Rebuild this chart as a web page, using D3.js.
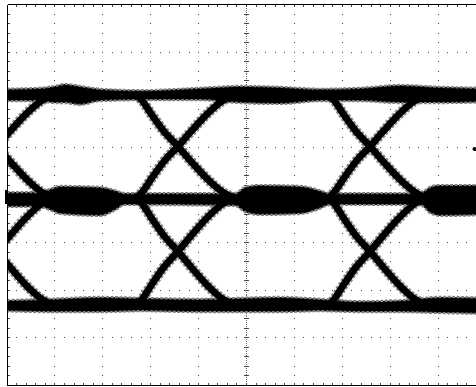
<!DOCTYPE html>
<html><head><meta charset="utf-8">
<script src="https://cdn.jsdelivr.net/npm/d3@7"></script>
<style>html,body{margin:0;padding:0;background:#fff;overflow:hidden}</style>
</head><body>
<svg id="c" width="476" height="387"></svg>
<script>
// ---- data (time and amplitude in screen divisions) ----
const levels = [2.09, -0.07, -2.32];            // top, middle, bottom logic levels
const crossings = [-0.20, 3.58, 7.59];           // eye crossing times
const edgeDt   = [-0.86, -0.74, -0.55, -0.30, 0, 0.30, 0.62, 0.92, 1.16]; // edge profile time offsets
const edgeFrac = [0, 0.06, 0.19, 0.35, 0.50, 0.66, 0.82, 0.94, 1.0];      // fraction of swing
// band envelopes: [time, upper edge, lower edge]
const topBand = [[-0.1,2.22,1.96],[0.70,2.24,1.96],[1.01,2.28,1.92],[1.22,2.32,1.92],[1.53,2.28,1.88],[1.95,2.22,1.96],[2.79,2.19,1.98],[4.04,2.24,1.98],[4.88,2.28,1.92],[5.71,2.26,1.90],[6.54,2.22,1.96],[7.38,2.24,1.96],[8.21,2.30,1.92],[9.05,2.26,1.92],[10.1,2.24,1.94]];
const midBand = [[-0.1,0.05,-0.26],[0.70,0.05,-0.26],[0.91,0.12,-0.33],[1.12,0.18,-0.41],[1.95,0.16,-0.45],[2.27,0.09,-0.33],[2.47,0.03,-0.22],[4.77,0.03,-0.24],[4.98,0.16,-0.37],[5.29,0.20,-0.43],[6.13,0.18,-0.41],[6.54,0.09,-0.30],[6.75,0.03,-0.22],[8.63,0.03,-0.22],[8.84,0.16,-0.39],[9.05,0.20,-0.45],[10.1,0.20,-0.43]];
const botBand = [[-0.1,-2.22,-2.45],[0.91,-2.19,-2.47],[1.95,-2.15,-2.47],[2.79,-2.17,-2.45],[4.04,-2.19,-2.47],[4.88,-2.17,-2.47],[5.71,-2.15,-2.47],[6.54,-2.19,-2.45],[7.38,-2.24,-2.47],[8.21,-2.22,-2.47],[9.05,-2.15,-2.49],[10.1,-2.17,-2.51]];
const xMajor = d3.range(0, 11);
const yMajor = d3.range(-4, 5);
const minorPerDiv = 5;
const markers = [[9.77, 0.955]];

// ---- scales ----
const W = 476, H = 387;
const x = d3.scaleLinear().domain([0, 10]).range([6.5, 485.5]);
const y = d3.scaleLinear().domain([-4, 4]).range([385, 4]);
const svg = d3.select("#c");
const px = v => Math.round(v) + 0.5;

svg.append("defs").append("clipPath").attr("id", "plot").append("rect")
  .attr("x", Math.round(x(0)) + 1).attr("y", Math.round(y(4)) + 1)
  .attr("width", W).attr("height", Math.round(y(-4)) - Math.round(y(4)) - 1);

// ---- graticule ----
const g = svg.append("g").attr("shape-rendering", "crispEdges");
const minorX = d3.range(0, 10 * minorPerDiv + 1).map(i => i / minorPerDiv);
const minorY = d3.range(-4 * minorPerDiv, 4 * minorPerDiv + 1).map(i => i / minorPerDiv);
const dot = (cx, cy, fill) => g.append("rect").attr("x", Math.round(cx)).attr("y", Math.round(cy)).attr("width", 1).attr("height", 1).attr("fill", fill);
xMajor.filter(v => v > 0 && v < 10 && v !== 5).forEach(v => minorY.forEach(w => dot(x(v), y(w), "#444")));
yMajor.filter(v => v > -4 && v < 4 && v !== 0).forEach(w => minorX.forEach(v => dot(x(v), y(w), "#444")));
const fineX = d3.range(0, 10 * 25 + 1).map(i => i / 25);
const fineY = d3.range(-4 * 25, 4 * 25 + 1).map(i => i / 25);
fineY.forEach(w => dot(x(5), y(w), "#666"));
fineX.forEach(v => dot(x(v), y(0), "#666"));
minorY.forEach(w => g.append("line").attr("x1", Math.round(x(5)) - 2).attr("x2", Math.round(x(5)) + 3).attr("y1", px(y(w))).attr("y2", px(y(w))).attr("stroke", "#444"));
minorX.forEach(v => g.append("line").attr("y1", Math.round(y(0)) - 2).attr("y2", Math.round(y(0)) + 3).attr("x1", px(x(v))).attr("x2", px(x(v))).attr("stroke", "#444"));
minorX.forEach(v => {
  g.append("rect").attr("x", Math.round(x(v))).attr("y", Math.round(y(4)) + 1).attr("width", 1).attr("height", 2).attr("fill", "#444");
  g.append("rect").attr("x", Math.round(x(v))).attr("y", Math.round(y(-4)) - 2).attr("width", 1).attr("height", 2).attr("fill", "#444");
});
minorY.forEach(w => g.append("rect").attr("x", Math.round(x(0)) + 1).attr("y", Math.round(y(w))).attr("width", 2).attr("height", 1).attr("fill", "#444"));

// ---- eye traces ----
const tr = svg.append("g").attr("clip-path", "url(#plot)");
const edges = [];
crossings.forEach(c => {
  [[0, 1], [1, 2]].forEach(([a, b]) => {
    const hi = levels[a], lo = levels[b];
    edges.push(edgeDt.map((d, i) => [c + d, hi + (lo - hi) * edgeFrac[i]]));
    edges.push(edgeDt.map((d, i) => [c + d, lo + (hi - lo) * edgeFrac[i]]));
  });
});
const line = d3.line().x(d => x(d[0])).y(d => y(d[1])).curve(d3.curveMonotoneX);
const area = d3.area().x(d => x(d[0])).y0(d => y(d[1])).y1(d => y(d[2])).curve(d3.curveMonotoneX);
tr.selectAll("path.halo").data(edges).join("path").attr("class", "halo")
  .attr("d", line).attr("fill", "none").attr("stroke", "#8c8c8c").attr("stroke-width", 10.5)
  .attr("stroke-dasharray", "3,1.5").attr("stroke-linecap", "butt");
tr.selectAll("path.band").data([topBand, midBand, botBand]).join("path").attr("class", "band")
  .attr("d", area).attr("fill", "#000").attr("stroke", "#808080").attr("stroke-width", 2.2)
  .attr("stroke-dasharray", "3,1.5");
tr.selectAll("path.core").data(edges).join("path").attr("class", "core")
  .attr("d", line).attr("fill", "none").attr("stroke", "#000").attr("stroke-width", 7).attr("stroke-linecap", "round");
tr.selectAll("circle.mk").data(markers).join("circle").attr("class", "mk")
  .attr("cx", d => x(d[0])).attr("cy", d => y(d[1])).attr("r", 2).attr("fill", "#000");

// frame on top
const f = svg.append("g").attr("shape-rendering", "crispEdges");
f.append("line").attr("x1", px(x(0))).attr("x2", W).attr("y1", px(y(4))).attr("y2", px(y(4))).attr("stroke", "#000");
f.append("line").attr("x1", px(x(0))).attr("x2", W).attr("y1", px(y(-4))).attr("y2", px(y(-4))).attr("stroke", "#000");
f.append("line").attr("x1", px(x(0))).attr("x2", px(x(0))).attr("y1", px(y(4))).attr("y2", px(y(-4))).attr("stroke", "#000");
f.append("rect").attr("x", Math.round(x(0)) - 2).attr("y", Math.round(y(0.1))).attr("width", 3).attr("height", Math.round(y(-0.2) - y(0.1))).attr("fill", "#000");
</script>
</body></html>
